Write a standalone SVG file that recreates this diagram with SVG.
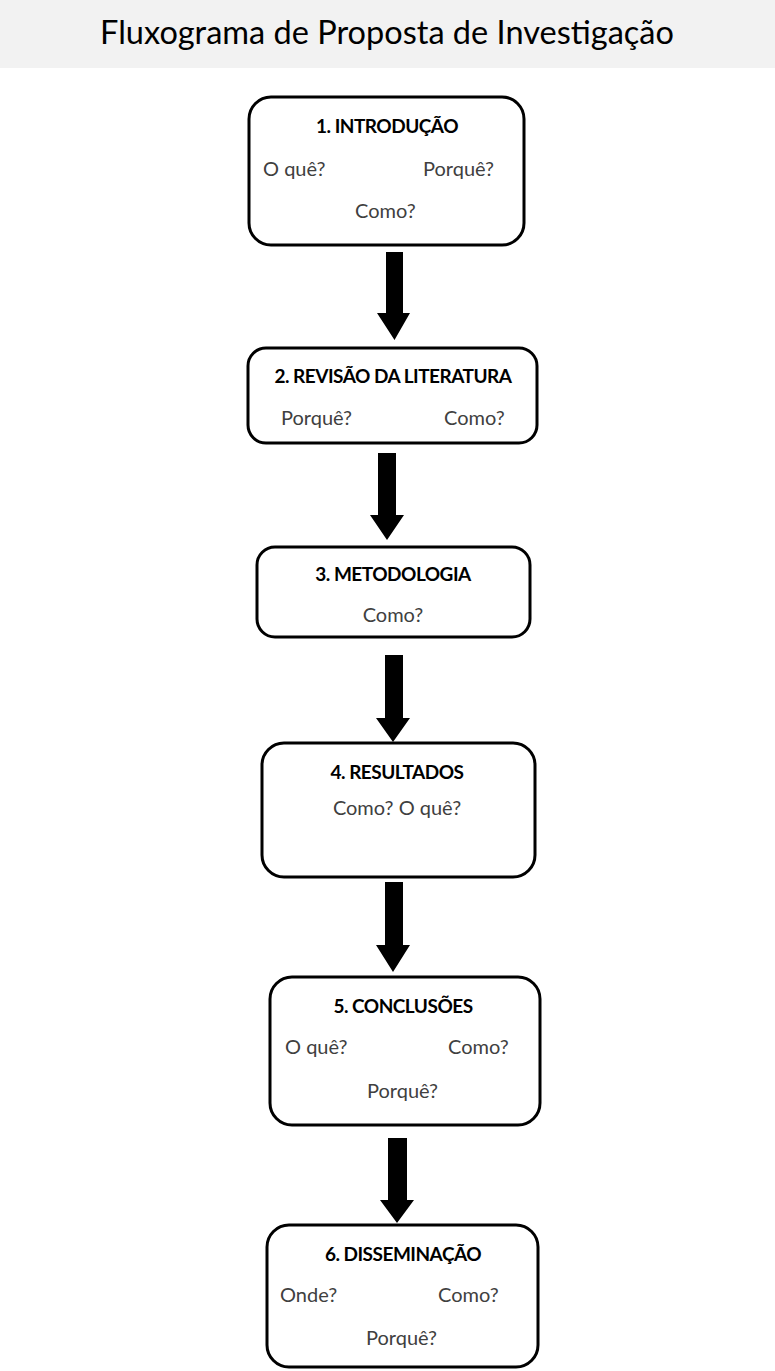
<svg xmlns="http://www.w3.org/2000/svg" width="775" height="1371" viewBox="0 0 775 1371">
<style>
.box{fill:#fff;stroke:#000;stroke-width:3}
.ttl{font-family:Lato,"Liberation Sans",sans-serif;font-weight:bold;font-size:19px;fill:#000;text-anchor:middle;letter-spacing:-0.5px}
.sub{font-family:Lato,"Liberation Sans",sans-serif;font-size:20px;fill:#404040}
.arr{fill:#000}
</style>
<rect x="0" y="0" width="775" height="68" fill="#f2f2f2"/>
<text x="387" y="44" font-family="Lato,'Liberation Sans',sans-serif" font-size="32.5" text-anchor="middle" fill="#000">Fluxograma de Proposta de Investigação</text>
<g id="connectors">
<polygon class="arr" points="386,252 403,252 403,313 410,313 394.5,340 377,313 386,313"/>
<polygon class="arr" points="378,453 396,453 396,515 404,515 387,540 370,515 378,515"/>
<polygon class="arr" points="385,655 403,655 403,718 410,718 393,742 376,718 385,718"/>
<polygon class="arr" points="385,882 403,882 403,945 410,945 393,972 376,945 385,945"/>
<polygon class="arr" points="388,1138 407,1138 407,1200 414,1200 397,1223 380,1200 388,1200"/>
</g>
<g id="node1">
<rect class="box" x="249" y="97" width="275" height="148" rx="22"/>
<text class="ttl" x="387" y="133">1. INTRODUÇÃO</text>
<text class="sub" x="263" y="176">O quê?</text>
<text class="sub" x="423" y="176">Porquê?</text>
<text class="sub" x="355" y="218">Como?</text>
</g>
<g id="node2">
<rect class="box" x="248" y="348" width="289" height="95" rx="18"/>
<text class="ttl" x="393" y="383">2. REVISÃO DA LITERATURA</text>
<text class="sub" x="281" y="425">Porquê?</text>
<text class="sub" x="444" y="425">Como?</text>
</g>
<g id="node3">
<rect class="box" x="257" y="547" width="273" height="90" rx="18"/>
<text class="ttl" x="393" y="581">3. METODOLOGIA</text>
<text class="sub" x="393" y="622" text-anchor="middle">Como?</text>
</g>
<g id="node4">
<rect class="box" x="262" y="743" width="273" height="134" rx="22"/>
<text class="ttl" x="397" y="779">4. RESULTADOS</text>
<text class="sub" x="397" y="815" text-anchor="middle">Como? O quê?</text>
</g>
<g id="node5">
<rect class="box" x="270" y="977" width="270" height="148" rx="22"/>
<text class="ttl" x="403" y="1013">5. CONCLUSÕES</text>
<text class="sub" x="285" y="1054">O quê?</text>
<text class="sub" x="448" y="1054">Como?</text>
<text class="sub" x="367" y="1098">Porquê?</text>
</g>
<g id="node6">
<rect class="box" x="267" y="1225" width="271" height="142" rx="22"/>
<text class="ttl" x="403" y="1261">6. DISSEMINAÇÃO</text>
<text class="sub" x="280" y="1302">Onde?</text>
<text class="sub" x="438" y="1302">Como?</text>
<text class="sub" x="366" y="1345">Porquê?</text>
</g>
</svg>
